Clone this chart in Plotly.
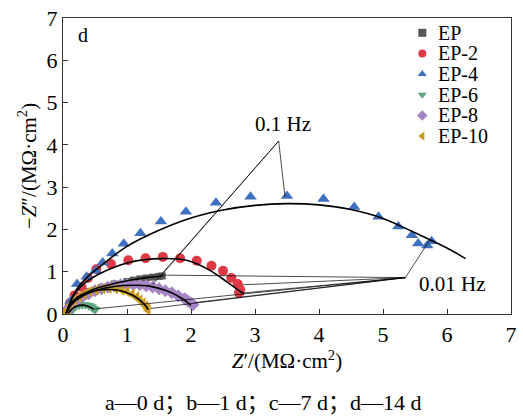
import plotly.graph_objects as go

# ---------------- data (MΩ·cm²) ----------------
ep_x = [0.05, 0.10, 0.15, 0.25, 0.40, 0.60, 0.80, 1.00, 1.10, 1.20, 1.30, 1.40, 1.50, 1.55]
ep_y = [0.05, 0.20, 0.30, 0.42, 0.53, 0.63, 0.71, 0.77, 0.80, 0.83, 0.85, 0.87, 0.89, 0.90]

ep2_x = [0.08, 0.11, 0.18, 0.29, 0.39, 0.52, 0.75, 1.02, 1.29, 1.56, 1.83, 2.09, 2.32, 2.50, 2.63, 2.73, 2.77, 2.75]
ep2_y = [0.12, 0.26, 0.44, 0.64, 0.85, 1.06, 1.18, 1.27, 1.32, 1.35, 1.32, 1.26, 1.14, 1.02, 0.85, 0.71, 0.57, 0.50]

ep4_x = [0.06, 0.12, 0.22, 0.37, 0.51, 0.62, 0.77, 0.95, 1.21, 1.53, 1.92, 2.39, 2.93, 3.50, 4.07, 4.55, 4.93, 5.24, 5.45, 5.55, 5.69, 5.76]
ep4_y = [0.08, 0.30, 0.71, 0.88, 1.02, 1.22, 1.43, 1.66, 1.91, 2.19, 2.42, 2.63, 2.77, 2.79, 2.72, 2.53, 2.30, 2.07, 1.86, 1.67, 1.62, 1.72]

ep6_x = [0.10, 0.12, 0.15, 0.20, 0.25, 0.30, 0.35, 0.40, 0.44, 0.47, 0.50]
ep6_y = [0.02, 0.05, 0.12, 0.18, 0.21, 0.22, 0.22, 0.20, 0.17, 0.13, 0.10]

ep8_x = [0.06, 0.10, 0.20, 0.30, 0.40, 0.50, 0.60, 0.70, 0.80, 0.90, 1.00, 1.10, 1.20, 1.30, 1.40, 1.50,
         1.60, 1.70, 1.80, 1.90, 1.95, 2.00, 2.03]
ep8_y = [0.05, 0.15, 0.30, 0.40, 0.48, 0.55, 0.60, 0.64, 0.67, 0.69, 0.70, 0.70, 0.69, 0.67, 0.64, 0.60,
         0.55, 0.50, 0.43, 0.36, 0.31, 0.26, 0.22]

ep10_x = [0.05, 0.08, 0.12, 0.18, 0.25, 0.33, 0.42, 0.52, 0.62, 0.72, 0.82, 0.92, 1.00, 1.08, 1.15, 1.20,
          1.25, 1.29, 1.32, 1.33]
ep10_y = [0.04, 0.10, 0.22, 0.32, 0.40, 0.47, 0.53, 0.57, 0.60, 0.61, 0.60, 0.57, 0.53, 0.47, 0.40, 0.33,
          0.26, 0.19, 0.13, 0.09]

# equivalent-circuit fits (black lines)
fit_ep_x = [0.05, 0.10, 0.20, 0.35, 0.55, 0.80, 1.05, 1.30, 1.55]
fit_ep_y = [0.02, 0.20, 0.37, 0.50, 0.62, 0.72, 0.80, 0.86, 0.90]
fit_ep2_x = [0.05, 0.15, 0.30, 0.57, 1.03, 1.54, 1.96, 2.31, 2.57, 2.83]
fit_ep2_y = [0.02, 0.40, 0.68, 0.95, 1.22, 1.31, 1.26, 1.02, 0.75, 0.47]
fit_ep4_x = [0.05, 0.20, 0.40, 0.60, 1.00, 1.50, 2.00, 2.50, 3.00, 3.50, 4.00, 4.50, 5.00, 5.50, 6.00, 6.29]
fit_ep4_y = [0.02, 0.55, 0.90, 1.15, 1.60, 1.98, 2.27, 2.46, 2.57, 2.61, 2.58, 2.47, 2.26, 1.92, 1.56, 1.31]
fit_ep6_x = [0.08, 0.15, 0.22, 0.30, 0.38, 0.44, 0.48]
fit_ep6_y = [0.02, 0.13, 0.19, 0.21, 0.19, 0.15, 0.11]
fit_ep8_x = [0.05, 0.15, 0.30, 0.50, 0.80, 1.10, 1.35, 1.60, 1.80, 1.95, 2.00]
fit_ep8_y = [0.02, 0.25, 0.42, 0.55, 0.65, 0.68, 0.66, 0.56, 0.42, 0.27, 0.20]
fit_ep10_x = [0.05, 0.12, 0.25, 0.45, 0.70, 0.90, 1.08, 1.20, 1.30, 1.33]
fit_ep10_y = [0.02, 0.22, 0.40, 0.53, 0.58, 0.55, 0.45, 0.33, 0.18, 0.10]

# frequency marker leader lines: apex point + target points
hz01_apex = (3.37, 4.09)
hz01_targets = [(3.47, 2.76), (1.54, 0.92), (1.40, 0.70)]
hz001_apex = (5.35, 0.86)
hz001_targets = [(5.73, 1.75), (1.54, 0.92), (2.80, 0.69), (2.83, 0.50), (2.06, 0.27), (1.37, 0.13), (0.50, 0.12)]

series = [
    ("EP", ep_x, ep_y, "square", "#555555", 7),
    ("EP-2", ep2_x, ep2_y, "circle", "#dc3a47", 10),
    ("EP-4", ep4_x, ep4_y, "triangle-up", "#4070c0", 11),
    ("EP-6", ep6_x, ep6_y, "triangle-down", "#5ea87e", 10),
    ("EP-8", ep8_x, ep8_y, "diamond", "#a585c4", 10),
    ("EP-10", ep10_x, ep10_y, "triangle-left", "#c99a1f", 10),
]
fits = [(fit_ep_x, fit_ep_y), (fit_ep2_x, fit_ep2_y), (fit_ep4_x, fit_ep4_y),
        (fit_ep6_x, fit_ep6_y), (fit_ep8_x, fit_ep8_y), (fit_ep10_x, fit_ep10_y)]

FONT = "Liberation Serif, Times New Roman, serif"
CAP_FONT = "Liberation Serif, Noto Sans CJK SC, serif"

# legend layout (fractions of the plot area)
LEG_MARK_X, LEG_TEXT_X, LEG_TOP, LEG_STEP = 0.802, 0.833, 0.950, 0.0698

fig = go.Figure()
for name, xs, ys, sym, col, sz in series:
    fig.add_trace(go.Scatter(x=xs, y=ys, mode="markers", name=name, showlegend=False,
                             marker=dict(symbol=sym, color=col, size=sz, line=dict(width=0))))
for fx, fy in fits:
    fig.add_trace(go.Scatter(x=fx, y=fy, mode="lines", line=dict(color="black", width=1.6, shape="spline"),
                             showlegend=False, hoverinfo="skip"))

for apex, targets in [(hz01_apex, hz01_targets), (hz001_apex, hz001_targets)]:
    lx, ly = [], []
    for tx, ty in targets:
        lx += [apex[0], tx, None]
        ly += [apex[1], ty, None]
    fig.add_trace(go.Scatter(x=lx, y=ly, mode="lines", line=dict(color="black", width=0.7),
                             showlegend=False, hoverinfo="skip"))

# compact legend drawn on a hidden overlay axis
for i, (name, xs, ys, sym, col, sz) in enumerate(series):
    yy = LEG_TOP - i * LEG_STEP
    fig.add_trace(go.Scatter(x=[LEG_MARK_X], y=[yy], mode="markers", xaxis="x2", yaxis="y2",
                             showlegend=False, hoverinfo="skip",
                             marker=dict(symbol=sym, color=col, size=8, line=dict(width=0))))
    fig.add_annotation(xref="paper", yref="paper", x=LEG_TEXT_X, y=yy, xanchor="left", yanchor="middle",
                       text=name, showarrow=False, font=dict(size=20, family=FONT, color="black"))

fig.add_annotation(x=0.31, y=6.6, text="d", showarrow=False, font=dict(size=20, family=FONT, color="black"))
fig.add_annotation(x=3.43, y=4.5, text="0.1 Hz", showarrow=False, font=dict(size=21, family=FONT, color="black"))
fig.add_annotation(x=6.08, y=0.70, text="0.01 Hz", showarrow=False, font=dict(size=21, family=FONT, color="black"))
fig.add_annotation(xref="paper", yref="paper", x=0.447, y=-0.30, yanchor="middle", xanchor="center",
                   text="a—0 d；b—1 d；c—7 d；d—14 d",
                   showarrow=False, font=dict(size=22, family=CAP_FONT, color="black"))

axis_common = dict(range=[0, 7], dtick=1, ticks="inside", ticklen=5, tickwidth=1, tickcolor="#333",
                   showline=True, linecolor="#333", linewidth=1.3, mirror=True, showgrid=False,
                   zeroline=False, tickfont=dict(size=22, family=FONT, color="black"))
fig.update_xaxes(**axis_common, title=dict(text="<i>Z</i>′/(MΩ·cm<sup>2</sup>)", standoff=4,
                                           font=dict(size=21, family=FONT, color="black")))
fig.update_yaxes(**axis_common, title=dict(text="−<i>Z</i>″/(MΩ·cm<sup>2</sup>)", standoff=4,
                                           font=dict(size=21, family=FONT, color="black")))

fig.update_layout(width=523, height=418, margin=dict(l=63, r=6, t=13, b=104),
                  paper_bgcolor="white", plot_bgcolor="white", showlegend=False,
                  xaxis2=dict(overlaying="x", range=[0, 1], visible=False),
                  yaxis2=dict(overlaying="y", range=[0, 1], visible=False))

fig.write_html("out.html")
